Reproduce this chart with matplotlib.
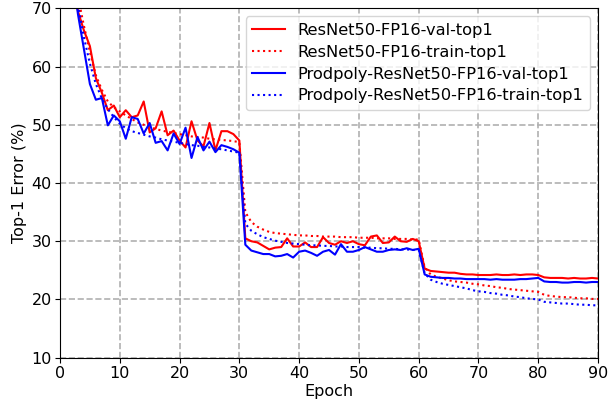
import numpy as np
import matplotlib
matplotlib.use('Agg')
import matplotlib.pyplot as plt

# top-1 error (%) per epoch
epochs = list(range(1, 91))

resnet_val = [
    90.0, 78.0, 69.5, 66.2, 63.5, 58.0, 55.5, 52.5, 53.3, 51.3,
    52.5, 51.3, 51.6, 54.0, 48.7, 49.4, 52.3, 48.2, 49.0, 47.3,
    46.1, 50.6, 47.3, 46.3, 50.3, 45.6, 48.9, 48.9, 48.4, 47.3,
    30.5, 30.0, 29.8, 29.2, 28.6, 28.9, 29.0, 30.5, 29.1, 29.1,
    29.8, 29.0, 29.0, 30.7, 29.7, 29.4, 30.0, 29.7, 30.0, 29.5,
    29.3, 30.8, 31.0, 29.7, 29.8, 30.8, 30.0, 29.9, 30.4, 30.0,
    25.3, 24.9, 24.8, 24.7, 24.6, 24.6, 24.4, 24.3, 24.3, 24.2,
    24.2, 24.2, 24.3, 24.2, 24.2, 24.3, 24.2, 24.3, 24.3, 24.2,
    23.8, 23.7, 23.7, 23.7, 23.6, 23.7, 23.6, 23.6, 23.7, 23.6,
]
resnet_train = [
    92.0, 80.0, 72.0, 67.0, 62.5, 58.5, 56.0, 54.0, 53.0, 52.3,
    51.6, 51.0, 50.4, 50.0, 49.6, 49.3, 49.0, 48.8, 48.6, 48.4,
    48.2, 48.0, 47.9, 47.8, 47.6, 47.5, 47.4, 47.3, 47.2, 47.0,
    35.0, 33.3, 32.5, 32.0, 31.6, 31.4, 31.3, 31.2, 31.1, 31.0,
    31.0, 30.9, 30.9, 30.8, 30.8, 30.8, 30.7, 30.7, 30.7, 30.6,
    30.6, 30.6, 30.5, 30.5, 30.5, 30.4, 30.4, 30.4, 30.3, 30.3,
    25.5, 24.3, 23.9, 23.6, 23.3, 23.1, 23.0, 22.9, 22.7, 22.6,
    22.4, 22.3, 22.1, 22.0, 21.8, 21.7, 21.6, 21.5, 21.4, 21.3,
    20.8, 20.6, 20.5, 20.4, 20.4, 20.3, 20.2, 20.2, 20.1, 20.1,
]
prodpoly_val = [
    89.0, 77.0, 69.0, 63.0, 57.0, 54.3, 54.6, 49.9, 51.6, 50.6,
    47.6, 51.3, 51.0, 48.5, 50.3, 46.9, 47.2, 45.6, 48.5, 46.7,
    49.5, 44.3, 47.9, 45.6, 47.1, 45.3, 46.5, 46.2, 45.8, 45.2,
    29.4, 28.4, 28.1, 27.8, 27.8, 27.4, 27.5, 27.8, 27.2, 28.2,
    28.4, 28.0, 27.5, 28.2, 28.5, 27.7, 29.5, 28.2, 28.2, 28.5,
    29.0, 28.6, 28.2, 28.2, 28.5, 28.6, 28.5, 28.8, 28.5, 28.7,
    24.3, 23.9, 23.8, 23.7, 23.7, 23.6, 23.6, 23.5, 23.5, 23.5,
    23.5, 23.4, 23.5, 23.4, 23.4, 23.4, 23.5, 23.5, 23.6, 23.7,
    23.1, 23.0, 23.0, 22.9, 22.9, 23.0, 23.0, 22.9, 23.0, 23.0,
]
prodpoly_train = [
    91.0, 79.0, 70.5, 65.0, 60.5, 57.0, 54.5, 52.7, 51.3, 50.2,
    49.4, 48.9, 48.6, 48.3, 48.0, 47.8, 47.5, 47.3, 47.1, 46.9,
    46.7, 46.5, 46.4, 46.2, 46.1, 45.9, 45.8, 45.6, 45.4, 45.2,
    33.0, 31.8, 31.2, 30.7, 30.4, 30.1, 29.9, 29.7, 29.6, 29.5,
    29.4, 29.3, 29.3, 29.2, 29.2, 29.1, 29.1, 29.0, 29.0, 29.0,
    28.9, 28.9, 28.8, 28.8, 28.7, 28.7, 28.6, 28.6, 28.5, 28.5,
    24.5, 23.4, 23.0, 22.7, 22.5, 22.3, 22.1, 21.9, 21.6, 21.4,
    21.3, 21.1, 21.0, 20.8, 20.7, 20.5, 20.4, 20.2, 20.1, 20.0,
    19.6, 19.5, 19.4, 19.3, 19.3, 19.2, 19.1, 19.1, 19.0, 19.0,
]

fig = plt.figure(figsize=(6.08, 4.09), dpi=100)
ax = fig.add_axes([0.0987, 0.1254, 0.8849, 0.8543])

ax.plot(epochs, resnet_val, color='red', linestyle='-', lw=1.5, label='ResNet50-FP16-val-top1')
ax.plot(epochs, resnet_train, color='red', linestyle=':', lw=1.5, label='ResNet50-FP16-train-top1')
ax.plot(epochs, prodpoly_val, color='blue', linestyle='-', lw=1.5, label='Prodpoly-ResNet50-FP16-val-top1')
ax.plot(epochs, prodpoly_train, color='blue', linestyle=':', lw=1.5, label='Prodpoly-ResNet50-FP16-train-top1')

ax.set_xlim(0, 90)
ax.set_ylim(10, 70)
ax.set_xticks(range(0, 91, 10))
ax.set_yticks(range(10, 71, 10))
ax.grid(True, linestyle='--', color='#b0b0b0', lw=1.2)
ax.set_axisbelow(True)
ax.tick_params(labelsize=11.5, pad=2.5)
ax.set_xlabel('Epoch', fontsize=11.5, labelpad=2)
ax.set_ylabel('Top-1 Error (%)', fontsize=11.5, labelpad=3)
ax.legend(loc='upper right', fontsize=11.7, labelspacing=0.42, handlelength=2.0)

plt.savefig('out.png', dpi=100)
